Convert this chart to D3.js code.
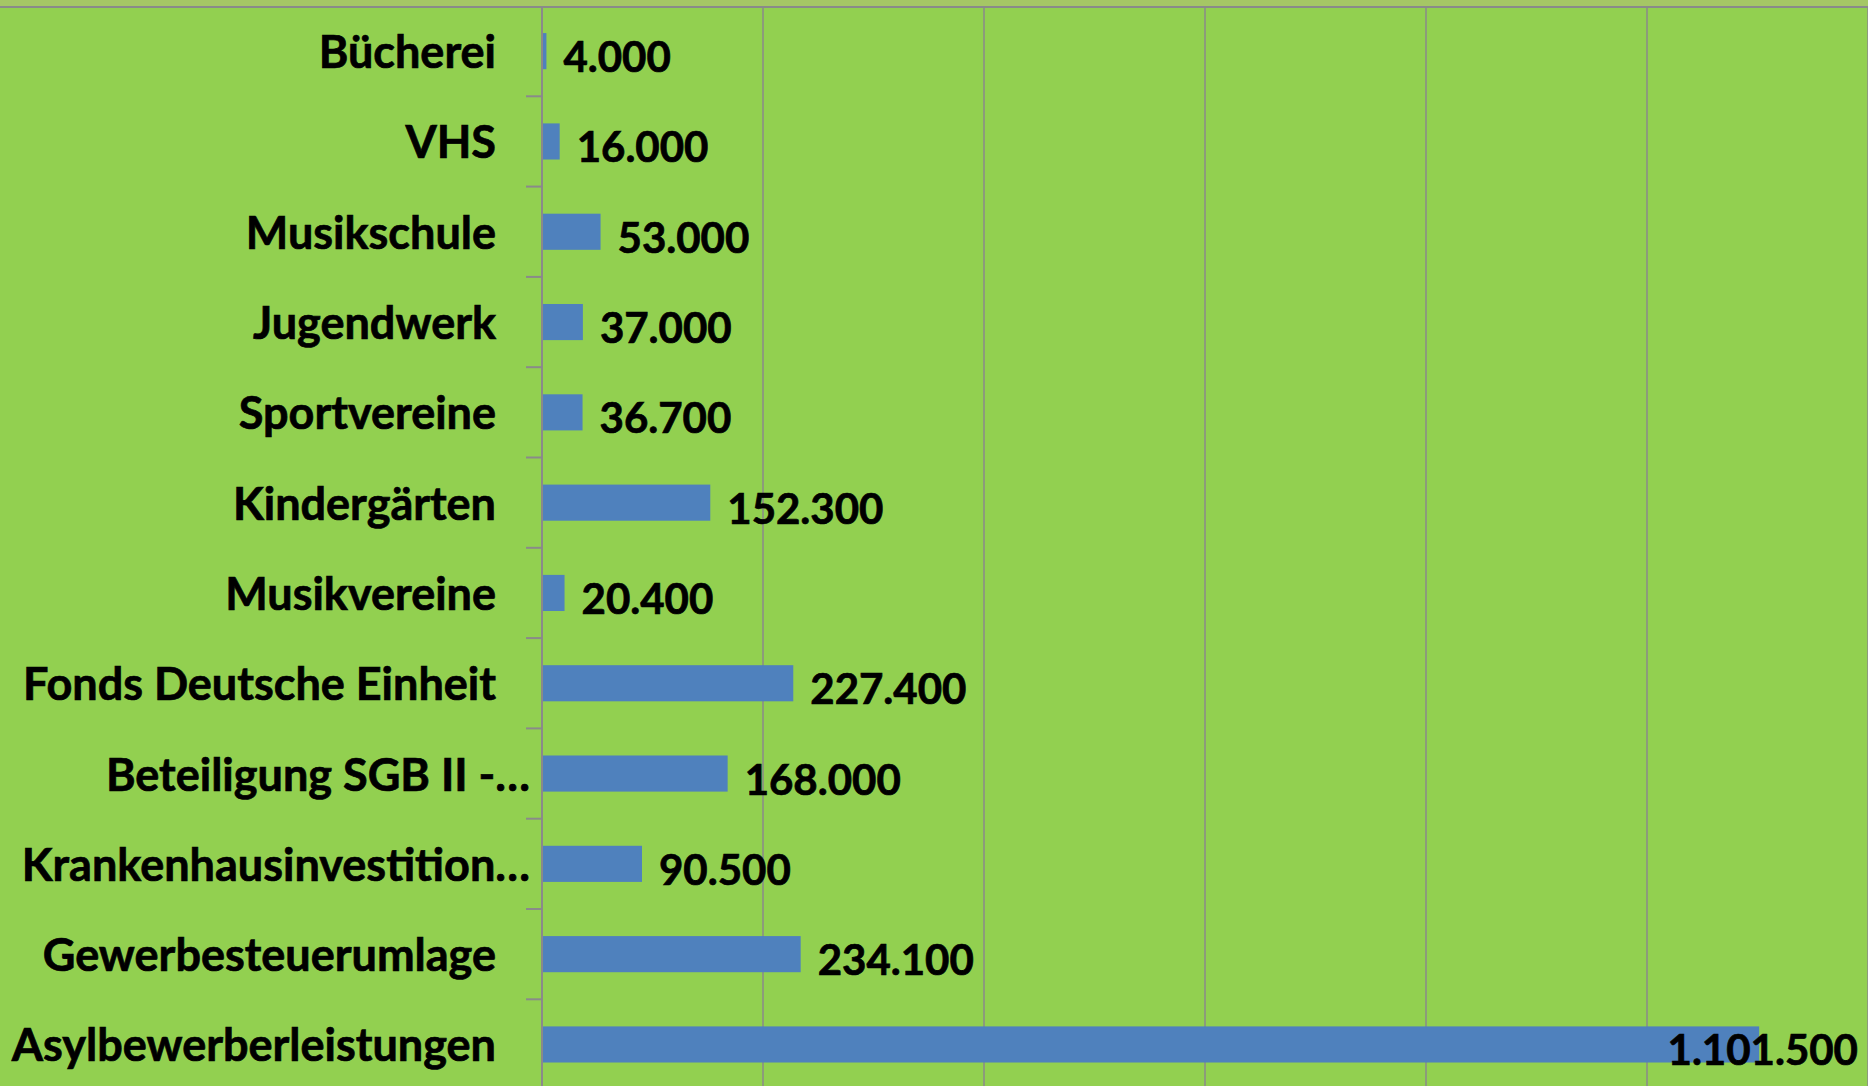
<!DOCTYPE html>
<html><head><meta charset="utf-8">
<script src="https://cdn.jsdelivr.net/npm/d3@7"></script>
<style>html,body{margin:0;padding:0;background:#92d050;overflow:hidden}</style>
</head><body>
<svg id="c" width="1868" height="1086"></svg>
<script>
const categories = ["Bücherei","VHS","Musikschule","Jugendwerk","Sportvereine","Kindergärten","Musikvereine","Fonds Deutsche Einheit","Beteiligung SGB II -…","Krankenhausinvestition…","Gewerbesteuerumlage","Asylbewerberleistungen"];
const values = [4000,16000,53000,37000,36700,152300,20400,227400,168000,90500,234100,1101500];
const xTicks = [0,200000,400000,600000,800000,1000000,1200000];

(function() {
const W = 1868, H = 1086;
const svg = d3.select("#c");
const pLeft = 542, pRight = 1868, pTop = 6, pBottom = 1089.6;
const font = "Lato, 'Open Sans', sans-serif";

svg.append("rect").attr("width", W).attr("height", H).attr("fill", "#92d050");
svg.append("rect").attr("width", W).attr("height", pTop).attr("fill", "#a5c765");

const x = d3.scaleLinear().domain([0, 1200000]).range([pLeft, pRight]);
const y = d3.scaleBand().domain(categories).range([pTop, pBottom]).paddingInner(0.6).paddingOuter(0.3);

svg.append("g").selectAll("line").data(xTicks.slice(1)).join("line")
  .attr("x1", d => x(d)).attr("x2", d => x(d))
  .attr("y1", pTop).attr("y2", H)
  .attr("stroke", "#8a8a8a").attr("stroke-width", 1.5);

svg.append("line").attr("x1", 0).attr("x2", W).attr("y1", pTop + 1).attr("y2", pTop + 1)
  .attr("stroke", "#8a8a8a").attr("stroke-width", 2);

svg.append("g").selectAll("rect").data(values).join("rect")
  .attr("x", x(0))
  .attr("y", (d, i) => y(categories[i]))
  .attr("width", d => x(d) - x(0))
  .attr("height", y.bandwidth())
  .attr("fill", "#4f81bd");

const step = y.step();
const boundaries = categories.slice(1).map(c => y(c) - step * 0.3);
svg.append("g").selectAll("line").data(boundaries).join("line")
  .attr("x1", pLeft - 16).attr("x2", pLeft).attr("y1", d => d).attr("y2", d => d)
  .attr("stroke", "#8a8a8a").attr("stroke-width", 2);
svg.append("line").attr("x1", pLeft).attr("x2", pLeft).attr("y1", pTop).attr("y2", H)
  .attr("stroke", "#8a8a8a").attr("stroke-width", 2);

svg.append("g").selectAll("text").data(categories).join("text")
  .attr("x", d => d.endsWith("…") ? 530 : 496)
  .attr("y", d => y(d) + y.bandwidth() / 2 + 17)
  .attr("text-anchor", "end")
  .attr("font-family", font).attr("font-weight", "bold").attr("font-size", 45)
  .attr("fill", "#000").attr("stroke", "#000").attr("stroke-width", 0.7)
  .text(d => d);

const de = d3.formatLocale({decimal: ",", thousands: ".", grouping: [3], currency: ["", "€"]});
const fmt = de.format(",d");
svg.append("g").selectAll("text").data(values).join("text")
  .attr("y", (d, i) => y(categories[i]) + y.bandwidth() / 2 + 21)
  .attr("font-family", font).attr("font-weight", "bold").attr("font-size", 42)
  .attr("fill", "#000").attr("stroke", "#000").attr("stroke-width", 0.7)
  .text(d => fmt(d))
  .each(function(d) {
    const w = this.getComputedTextLength();
    let px = x(d) + 17;
    if (px + w > W - 10) px = W - 10 - w;
    d3.select(this).attr("x", px);
  });
})();
</script>
</body></html>
